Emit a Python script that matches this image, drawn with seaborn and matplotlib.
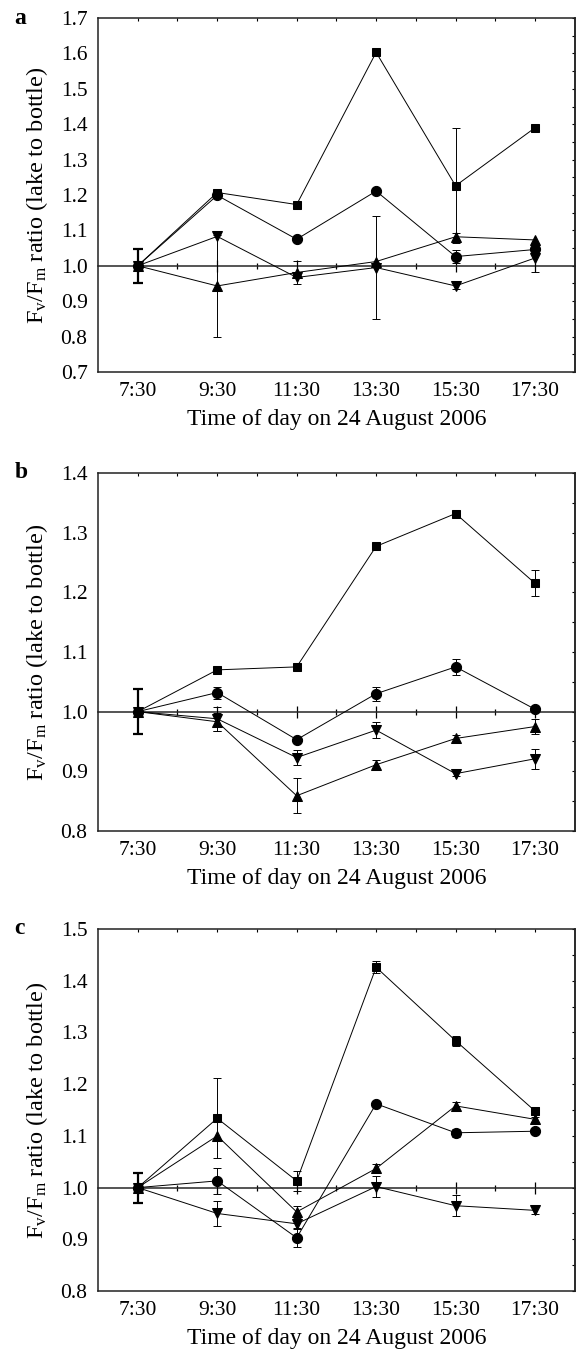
"""
Fv/Fm ratio (lake to bottle) over the day, three panels.
"""

###########
# IMPORTS #
###########
import seaborn as sns
import matplotlib.pyplot as plt
from matplotlib.ticker import MultipleLocator, FixedLocator, FormatStrFormatter


########
# DATA #
########
times = [7.5, 9.5, 11.5, 13.5, 15.5, 17.5]
time_labels = ['7:30', '9:30', '11:30', '13:30', '15:30', '17:30']
hour_ticks = [8.5, 10.5, 12.5, 14.5, 16.5]

# panel a
a_square = [1.0, 1.207, 1.173, 1.603, 1.226, 1.390]
a_square_err = [0, 0, 0, 0, 0.162, 0]
a_circle = [1.0, 1.199, 1.075, 1.211, 1.026, 1.046]
a_circle_err = [0, 0, 0, 0, 0.018, 0]
a_up = [1.0, 0.943, 0.981, 1.012, 1.082, 1.073]
a_up_err = [0, 0.143, 0.033, 0, 0.010, 0]
a_down = [1.0, 1.083, 0.967, 0.995, 0.943, 1.022]
a_down_err = [0, 0, 0, 0.145, 0.008, 0.040]
a_start_err = 0.048

# panel b
b_square = [1.0, 1.070, 1.075, 1.277, 1.332, 1.215]
b_square_err = [0, 0.004, 0, 0.004, 0.005, 0.022]
b_circle = [1.0, 1.032, 0.953, 1.030, 1.075, 1.004]
b_circle_err = [0, 0.010, 0, 0.012, 0.013, 0]
b_up = [1.0, 0.983, 0.859, 0.911, 0.955, 0.975]
b_up_err = [0, 0.015, 0.029, 0.008, 0.005, 0.013]
b_down = [1.0, 0.988, 0.923, 0.969, 0.896, 0.921]
b_down_err = [0, 0.020, 0.013, 0.014, 0.004, 0.017]
b_start_err = 0.038

# panel c
c_square = [1.0, 1.134, 1.013, 1.426, 1.284, 1.148]
c_square_err = [0, 0.077, 0.020, 0.012, 0.010, 0.008]
c_circle = [1.0, 1.013, 0.903, 1.162, 1.106, 1.109]
c_circle_err = [0, 0.025, 0.018, 0.005, 0.008, 0.006]
c_up = [1.0, 1.100, 0.953, 1.037, 1.158, 1.132]
c_up_err = [0, 0, 0.012, 0.008, 0.008, 0.005]
c_down = [1.0, 0.950, 0.930, 1.002, 0.965, 0.956]
c_down_err = [0, 0.025, 0.010, 0.020, 0.020, 0.008]
c_start_err = 0.029

y_limits = {'a': (0.7, 1.7), 'b': (0.8, 1.4), 'c': (0.8, 1.5)}


####################
# HELPER FUNCTIONS #
####################

def _plot_series(ax, values, errors, marker, ms):
    """Line with markers plus the error bars that are non zero."""
    sns.lineplot(x=times, y=values, marker=marker, markersize=ms, color='black',
                 markeredgecolor='black', linewidth=0.7, ax=ax, zorder=3)
    ex = [t for t, e in zip(times, errors) if e > 0]
    ey = [v for v, e in zip(values, errors) if e > 0]
    ee = [e for e in errors if e > 0]
    ax.errorbar(ex, ey, yerr=ee, fmt='none', ecolor='black', elinewidth=0.7,
                capsize=2.8, capthick=0.7, zorder=2)


def _style_axes(ax, ylim, letter):
    """Ticks, spines, reference line and labels of one panel."""
    ax.set_xlim(6.5, 18.5)
    ax.set_ylim(*ylim)

    # x ticks: labels at the bottom, small ticks on the top spine only
    ax.set_xticks(times, time_labels)
    ax.xaxis.set_minor_locator(FixedLocator(hour_ticks))
    ax.tick_params(axis='x', which='both', bottom=False, top=True, direction='in',
                   length=2.2, width=0.8, labelsize=15.5, pad=7)

    # y ticks outside on the left
    ax.yaxis.set_major_locator(MultipleLocator(0.1))
    ax.yaxis.set_minor_locator(MultipleLocator(0.05))
    ax.yaxis.set_major_formatter(FormatStrFormatter('%.1f'))
    ax.tick_params(axis='y', which='major', direction='out', length=4.5, width=0.9,
                   labelsize=15.5, pad=3)
    ax.tick_params(axis='y', which='minor', direction='out', length=2.5, width=0.8)

    # inward ticks on the right spine
    right = ax.secondary_yaxis('right')
    right.yaxis.set_major_locator(MultipleLocator(0.1))
    right.yaxis.set_minor_locator(MultipleLocator(0.05))
    right.tick_params(which='both', direction='in', length=2.2, width=0.8,
                      labelright=False)
    right.spines['right'].set_linewidth(1.1)

    # line at ratio 1.0 with hour ticks crossing it
    pos = (1.0 - ylim[0]) / (ylim[1] - ylim[0])
    one = ax.secondary_xaxis(pos)
    one.set_xticks(times)
    one.xaxis.set_minor_locator(FixedLocator(hour_ticks))
    one.tick_params(which='major', direction='inout', length=9, width=0.9)
    one.tick_params(which='minor', direction='inout', length=5, width=0.9)
    one.tick_params(which='both', labelbottom=False, labeltop=False)
    one.spines['bottom'].set_linewidth(1.1)
    one.spines['top'].set_linewidth(1.1)

    for spine in ax.spines.values():
        spine.set_linewidth(1.1)
        spine.set_color('#222222')

    ax.set_xlabel('Time of day on 24 August 2006', fontsize=17, labelpad=6)
    ax.set_ylabel(r'F$_\mathrm{v}$/F$_\mathrm{m}$ ratio (lake to bottle)', fontsize=17.5)
    ax.yaxis.set_label_coords(-0.1, 0.5)
    ax.text(-0.175, 1.0, letter, transform=ax.transAxes, fontsize=17,
            fontweight='bold', va='center', ha='left')


#########
# PLOTS #
#########

sns.set_style('white')
plt.rcParams['font.family'] = ['Liberation Serif', 'DejaVu Serif']
plt.rcParams['mathtext.fontset'] = 'custom'
plt.rcParams['mathtext.rm'] = 'Liberation Serif'
plt.rcParams['mathtext.it'] = 'Liberation Serif:italic'
plt.rcParams['text.color'] = 'black'
plt.rcParams['axes.labelcolor'] = 'black'
plt.rcParams['xtick.color'] = 'black'
plt.rcParams['ytick.color'] = 'black'

fig = plt.figure(figsize=(5.8, 13.56), dpi=100)

# axes boxes in figure fractions [left, bottom, width, height]
boxes = {
    'a': [0.169, 0.7257, 0.822, 0.261],
    'b': [0.169, 0.3872, 0.822, 0.264],
    'c': [0.169, 0.0479, 0.822, 0.267],
}

panels = {
    'a': [(a_square, a_square_err), (a_circle, a_circle_err), (a_up, a_up_err),
          (a_down, a_down_err), a_start_err],
    'b': [(b_square, b_square_err), (b_circle, b_circle_err), (b_up, b_up_err),
          (b_down, b_down_err), b_start_err],
    'c': [(c_square, c_square_err), (c_circle, c_circle_err), (c_up, c_up_err),
          (c_down, c_down_err), c_start_err],
}

markers = [('s', 6.3), ('o', 7.3), ('^', 7.6), ('v', 7.6)]

for letter, box in boxes.items():
    ax = fig.add_axes(box)
    *series, start_err = panels[letter]
    for (values, errors), (m, ms) in zip(series, markers):
        _plot_series(ax, values, errors, m, ms)

    # thicker bar at the starting time
    ax.errorbar([times[0]], [1.0], yerr=[start_err], fmt='none', ecolor='black',
                elinewidth=1.6, capsize=3.5, capthick=1.6, zorder=2)

    _style_axes(ax, y_limits[letter], letter)

plt.savefig('out.png', dpi=100)
